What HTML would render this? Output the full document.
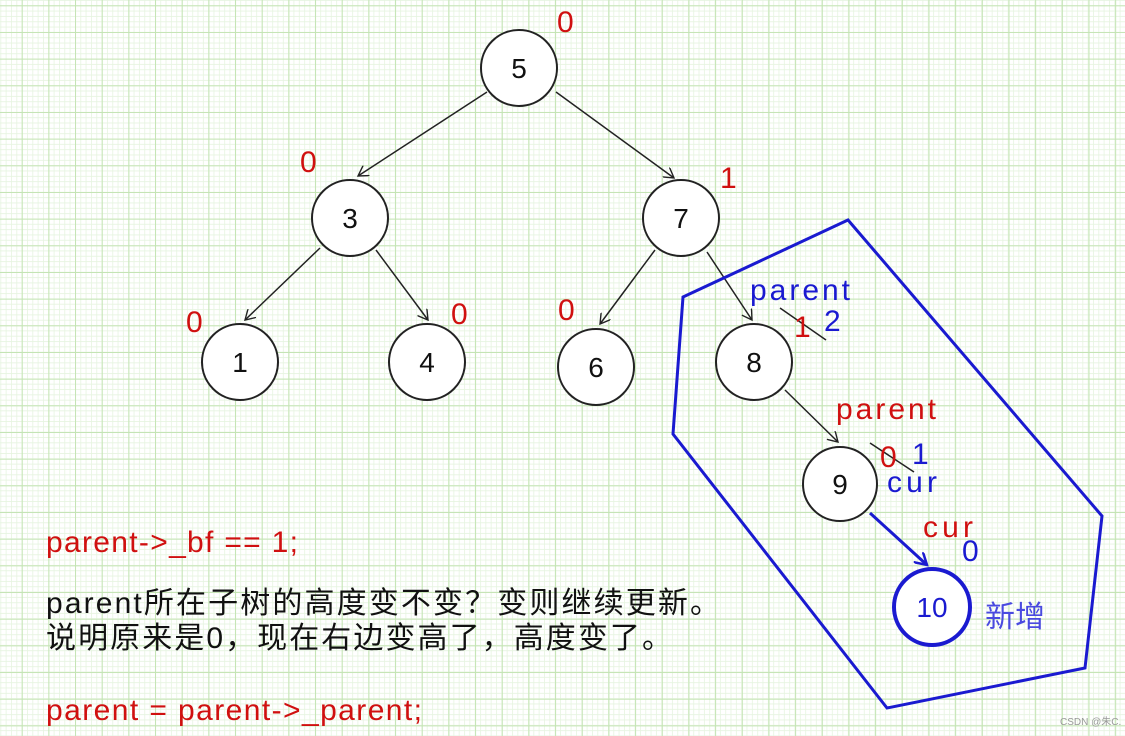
<!DOCTYPE html>
<html><head><meta charset="utf-8"><style>
html,body{margin:0;padding:0;background:#fff}
svg{display:block}
.t{font-family:"Liberation Sans","Noto Sans CJK SC",sans-serif}
</style></head><body>
<svg width="1125" height="736" viewBox="0 0 1125 736" xmlns="http://www.w3.org/2000/svg">
<defs>
<pattern id="minor" x="21.7" y="5.3" width="5.33" height="5.33" patternUnits="userSpaceOnUse">
<path d="M0 0H5.33M0 0V5.33" stroke="#e6f4e0" stroke-width="1.6" fill="none"/></pattern>
<pattern id="major" x="21.7" y="5.3" width="26.67" height="26.67" patternUnits="userSpaceOnUse">
<path d="M0 0H26.67M0 0V26.67" stroke="#c4e4b4" stroke-width="2" fill="none"/></pattern>
<marker id="ar" markerWidth="12" markerHeight="12" refX="10" refY="6" orient="auto" markerUnits="userSpaceOnUse">
<path d="M0 0L10 6L0 12" fill="none" stroke="#222" stroke-width="1.4"/></marker>
<marker id="arb" markerWidth="14" markerHeight="14" refX="12" refY="7" orient="auto" markerUnits="userSpaceOnUse">
<path d="M0 0L12 7L0 14" fill="none" stroke="#1a1ad0" stroke-width="2.5"/></marker>
</defs>
<rect width="1125" height="736" fill="url(#minor)"/>
<rect width="1125" height="736" fill="url(#major)"/>
<g stroke="#222" stroke-width="1.5" fill="none">
<line x1="487" y1="92" x2="358" y2="176" marker-end="url(#ar)"/>
<line x1="556" y1="92" x2="674" y2="178" marker-end="url(#ar)"/>
<line x1="320" y1="248" x2="245" y2="320" marker-end="url(#ar)"/>
<line x1="376" y1="250" x2="428" y2="320" marker-end="url(#ar)"/>
<line x1="655" y1="250" x2="600" y2="324" marker-end="url(#ar)"/>
<line x1="707" y1="252" x2="752" y2="320" marker-end="url(#ar)"/>
<line x1="785" y1="390" x2="838" y2="442" marker-end="url(#ar)"/>
<line x1="780" y1="308" x2="826" y2="340"/>
<line x1="870" y1="443" x2="914" y2="472"/>
</g>
<line x1="870" y1="513" x2="927" y2="565" stroke="#1a1ad0" stroke-width="3" marker-end="url(#arb)"/>
<polygon points="683,297 848,220 1102,516 1085,668 887,708 673,434" fill="none" stroke="#1a1ad0" stroke-width="3"/>
<g fill="#fff" stroke="#222" stroke-width="2">
<circle cx="519" cy="68" r="38"/><circle cx="350" cy="218" r="38"/><circle cx="681" cy="218" r="38"/>
<circle cx="240" cy="362" r="38"/><circle cx="427" cy="362" r="38"/><circle cx="596" cy="367" r="38"/>
<circle cx="754" cy="362" r="38"/><circle cx="840" cy="484" r="37"/>
</g>
<circle cx="932" cy="607" r="38" fill="#fff" stroke="#1a1ad0" stroke-width="4"/>
<g class="t" font-size="28" text-anchor="middle" fill="#111">
<text x="519" y="78">5</text><text x="350" y="228">3</text><text x="681" y="228">7</text>
<text x="240" y="372">1</text><text x="427" y="372">4</text><text x="596" y="377">6</text>
<text x="754" y="372">8</text><text x="840" y="494">9</text>
<text x="932" y="617" fill="#1a1ad0">10</text>
</g>
<g class="t" font-size="30" fill="#d01010">
<text x="557" y="32">0</text><text x="300" y="172">0</text><text x="720" y="188">1</text>
<text x="186" y="332">0</text><text x="451" y="324">0</text><text x="558" y="320">0</text>
<text x="794" y="337">1</text><text x="880" y="467">0</text>
<text x="836" y="419" textLength="100">parent</text><text x="923" y="537" textLength="50">cur</text>
</g>
<g class="t" font-size="30" fill="#1a1ad0">
<text x="750" y="300" textLength="100">parent</text><text x="824" y="331">2</text><text x="912" y="464">1</text>
<text x="887" y="492" textLength="50">cur</text><text x="962" y="561">0</text>
<text x="985" y="627" font-size="30" fill="#4a4ae0">新增</text>
</g>
<g class="t" font-size="30">
<text x="46" y="552" fill="#d01010" textLength="252">parent-&gt;_bf == 1;</text>
<text x="46" y="613" fill="#111" textLength="674">parent所在子树的高度变不变？变则继续更新。</text>
<text x="46" y="648" fill="#111" textLength="626">说明原来是0，现在右边变高了，高度变了。</text>
<text x="46" y="720" fill="#d01010" textLength="376">parent = parent-&gt;_parent;</text>
</g>
<text class="t" x="1060" y="725" font-size="10" fill="#999">CSDN @朱C.</text>
</svg>
</body></html>
